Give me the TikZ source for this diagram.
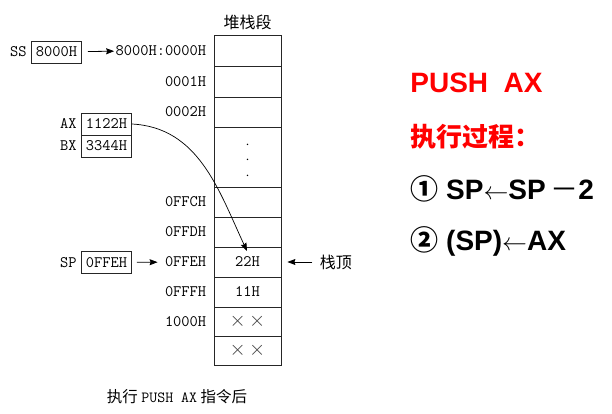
\documentclass[tikz,border=0pt]{standalone}
\usepackage{fontspec}
\setmainfont{Liberation Sans}
\newfontfamily\cjk{Noto Sans CJK SC}
\usetikzlibrary{arrows.meta,positioning}

\begin{document}
\begin{tikzpicture}[x=1pt, y=-1pt, >={Stealth[length=8pt, width=6pt, inset=1pt]}, line width=0.8pt,
    cell/.style={rectangle, draw=black!85, minimum width=67pt, inner sep=0pt, font=\ttfamily\fontsize{16}{16}\selectfont},
    reg/.style={rectangle, draw=black!85, minimum width=50pt, minimum height=22pt, inner sep=0pt, font=\ttfamily\fontsize{16}{16}\selectfont},
    addr/.style={inner sep=1pt, font=\ttfamily\fontsize{16}{16}\selectfont},
    hanzi/.style={inner sep=1pt, font=\cjk\fontsize{15.5}{15.5}\selectfont},
    cross/.style={font=\fontsize{21}{21}\selectfont, text=black!75},
    big/.style={anchor=west, inner sep=0pt, font=\bfseries\fontsize{28}{28}\selectfont}]
    \useasboundingbox (0,0) rectangle (612,414);

    % stack segment
    \node[cell, minimum height=31pt] (c1) at (247.5,50.5) {};
    \node[cell, minimum height=31pt] (c2) at (247.5,81.5) {};
    \node[cell, minimum height=30pt] (c3) at (247.5,112) {};
    \node[cell, minimum height=60pt, font=\fontsize{15}{15}\selectfont] (c4) at (247.5,157)
        {$\vcenter{\offinterlineskip\kern7pt\hbox{$\cdot$}\kern9pt\hbox{$\cdot$}\kern9pt\hbox{$\cdot$}}$};
    \node[cell, minimum height=30pt] (c5) at (247.5,202) {};
    \node[cell, minimum height=30pt] (c6) at (247.5,232) {};
    \node[cell, minimum height=30pt] (c7) at (247.5,262) {22H};
    \node[cell, minimum height=30pt] (c8) at (247.5,292) {11H};
    \node[cell, cross, minimum height=29pt] (c9) at (247.5,321.5) {$\times\,\times$};
    \node[cell, cross, minimum height=29pt] (c10) at (247.5,350.5) {$\times\,\times$};
    \node[hanzi, font=\cjk\fontsize{16}{16}\selectfont, above=3pt of c1] (seg) {堆栈段};

    \node[addr, left=6pt of c1] (a1) {8000H:0000H};
    \node[addr, left=6pt of c2] (a2) {0001H};
    \node[addr, left=6pt of c3] (a3) {0002H};
    \node[addr, left=6pt of c5] (a5) {0FFCH};
    \node[addr, left=6pt of c6] (a6) {0FFDH};
    \node[addr, left=6pt of c7] (a7) {0FFEH};
    \node[addr, left=6pt of c8] (a8) {0FFFH};
    \node[addr, left=6pt of c9] (a9) {1000H};

    % registers
    \node[reg] (ss) at (56.5,52) {8000H};
    \node[addr, left=3pt of ss] (sslbl) {SS};
    \node[reg] (ax) at (106.5,124) {1122H};
    \node[addr, left=3pt of ax] (axlbl) {AX};
    \node[reg] (bx) at (106.5,146) {3344H};
    \node[addr, left=3pt of bx] (bxlbl) {BX};
    \node[reg] (sp) at (106.5,262.5) {0FFEH};
    \node[addr, left=3pt of sp] (splbl) {SP};

    \draw[->, shorten <=6pt] (ss) -- (a1);
    \draw[->, shorten <=5pt, shorten >=6pt] (sp) -- (a7);
    \coordinate (push) at (247,251);
    \draw[->, line width=0.7pt] (ax.east) to[out=-3, in=115] (push);

    \node[hanzi, font=\cjk\fontsize{16}{16}\selectfont, right=37pt of c7] (top) {栈顶};
    \draw[->, shorten <=6pt, shorten >=6pt] (top) -- (c7);

    \node[hanzi] (cap) at (177,397) {执行 {\ttfamily PUSH AX} 指令后};

    % explanation
    \node[big, text=red] (title) at (410,83) {PUSH\ \ AX};
    \node[big, text=red, font=\cjk\bfseries\fontsize{26}{26}\selectfont] (proc) at (410,137) {执行过程：};
    \node[big] (s1) at (410,189) {{\cjk ①} SP$\leftarrow$SP\,{\cjk\mdseries －}2};
    \node[big] (s2) at (410,241) {{\cjk ②} (SP)$\leftarrow$AX};
\end{tikzpicture}
\end{document}
